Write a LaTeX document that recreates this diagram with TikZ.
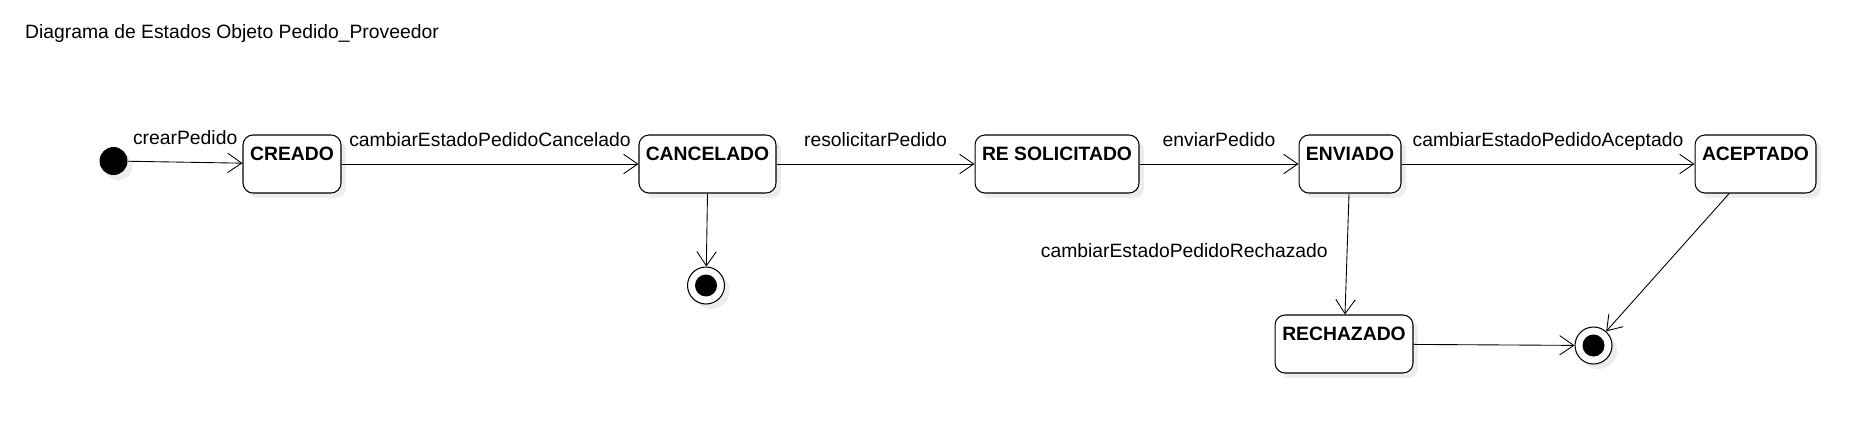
\documentclass[tikz,border=0pt]{standalone}
\usepackage{fontspec}
\setmainfont{Liberation Sans}
\usetikzlibrary{arrows.meta,shadows}
\newcommand{\tamano}{\fontsize{11}{13}\selectfont}
\tikzset{
  sombra/.style={drop shadow={shadow xshift=0.1cm, shadow yshift=-0.1cm, opacity=1, fill=black!7}},
  estado/.style={draw, rounded corners=0.2cm, inner sep=0pt, text height=0.5cm, text depth=0.66cm,
    minimum height=1.16cm, font=\tamano\bfseries, fill=white, line width=0.6pt, sombra},
  inicio/.style={circle, fill=black, minimum size=0.56cm, inner sep=0pt, sombra},
  fin/.style={circle, draw, fill=white, minimum size=0.74cm, inner sep=0pt, line width=0.6pt, sombra,
    path picture={\fill[black] (path picture bounding box.center) circle (0.22cm);}},
  trans/.style={-{Straight Barb[length=8pt,width=11pt]}, line width=0.5pt},
  etiqueta/.style={anchor=base, yshift=0.36cm, font=\tamano}
}
\begin{document}
\begin{tikzpicture}[x=0.02cm, y=-0.02cm]
\useasboundingbox[fill=white] (0, 0) rectangle (1875, 433);
\node[anchor=base west, font=\tamano] (titulo) at (19, 38) {Diagrama de Estados Objeto Pedido\_Proveedor};

\node[inicio] (ini) at (113.5, 161) {};
\node[estado, minimum width=1.96cm] (creado) at (292, 164) {CREADO};
\node[estado, minimum width=2.74cm] (cancelado) at (707.5, 164) {CANCELADO};
\node[estado, minimum width=3.28cm] (resolicitado) at (1057, 164) {RE SOLICITADO};
\node[estado, minimum width=2.04cm] (enviado) at (1350, 164) {ENVIADO};
\node[estado, minimum width=2.42cm] (aceptado) at (1755.5, 164) {ACEPTADO};
\node[estado, minimum width=2.76cm] (rechazado) at (1344, 344) {RECHAZADO};
\node[fin] (fin1) at (706, 285.5) {};
\node[fin] (fin2) at (1593.5, 345.5) {};

\draw[trans] (ini) -- node[etiqueta, midway] {crearPedido} (creado);
\draw[trans] (creado) -- node[etiqueta, midway] {cambiarEstadoPedidoCancelado} (cancelado);
\draw[trans] (cancelado) -- node[etiqueta, midway] {resolicitarPedido} (resolicitado);
\draw[trans] (resolicitado) -- node[etiqueta, midway] {enviarPedido} (enviado);
\draw[trans] (enviado) -- node[etiqueta, midway] {cambiarEstadoPedidoAceptado} (aceptado);
\draw[trans] (enviado) -- node[midway, anchor=base east, xshift=-0.26cm, yshift=-0.06cm, font=\tamano] {cambiarEstadoPedidoRechazado} (rechazado);
\draw[trans] (cancelado.south) -- (fin1);
\draw[trans] (rechazado) -- (fin2);
\draw[trans] (aceptado) -- (fin2);

\end{tikzpicture}
\end{document}
